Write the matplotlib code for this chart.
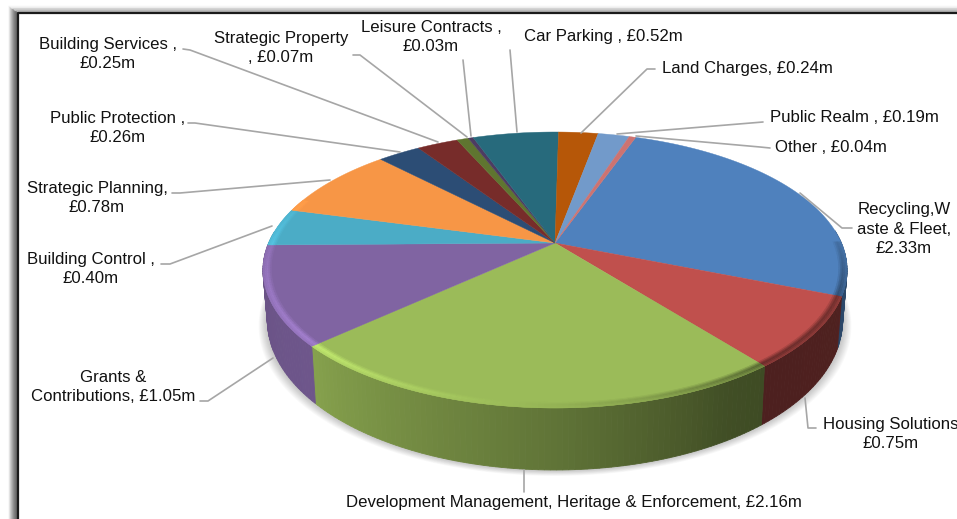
import numpy
from matplotlib import pyplot
from matplotlib.colors import to_rgb

pyplot.rcParams['font.family'] = ['Liberation Sans', 'DejaVu Sans']

# values in GBP million, clockwise from the blue slice
values = [2.33, 0.75, 2.16, 1.05, 0.40, 0.78, 0.26, 0.25, 0.07, 0.03, 0.52, 0.24, 0.19, 0.04]
colors = ['#4f81bd', '#c0504d', '#9bbb59', '#8064a2', '#4bacc6', '#f79646', '#2c4d75',
          '#772c2a', '#5f7530', '#4d3b62', '#276a7c', '#b65708', '#729aca', '#cd7371']
labels = ['Recycling,W\naste & Fleet,\n£2.33m', 'Housing Solutions\n£0.75m',
          'Development Management, Heritage & Enforcement, £2.16m',
          'Grants &\nContributions, £1.05m', 'Building Control ,\n£0.40m',
          'Strategic Planning,\n£0.78m', 'Public Protection ,\n£0.26m',
          'Building Services ,\n£0.25m', 'Strategic Property\n, £0.07m',
          'Leisure Contracts ,\n£0.03m', 'Car Parking , £0.52m', 'Land Charges, £0.24m',
          'Public Realm , £0.19m', 'Other , £0.04m']
label_pos = [(904, 229), (891, 434), (574, 502), (113, 387), (91, 269), (97, 198), (118, 128),
             (108, 54), (281, 48), (431, 37), (603, 36), (747, 69), (854, 117), (831, 147)]
leaders = [[(852, 228), (842, 228), (800, 193)], [(816, 428), (808, 428), (805, 398)],
           [(524, 492), (524, 470)], [(200, 401), (208, 401), (273, 358)],
           [(161, 264), (170, 264), (272, 226)], [(172, 193), (180, 193), (330, 180)],
           [(188, 123), (195, 123), (400, 152)], [(183, 49), (190, 50), (438, 142)],
           [(353, 55), (360, 55), (467, 137)], [(463, 60), (471, 136)],
           [(510, 50), (517, 132)], [(655, 69), (647, 69), (581, 133)],
           [(763, 122), (617, 134)], [(770, 148), (760, 147), (636, 136)]]

start_angle = 19.5
cx, cy = 555.0, 243.0
a, b, k = 286.4, 132.7, 0.1956


def project(theta, r=1.0):
    t = numpy.radians(theta)
    u, v = r * numpy.sin(t), r * numpy.cos(t)
    return cx + a * u / (1 + k * v), cy - b * v / (1 + k * v)


def project_bottom(theta, grow=0.0):
    x, y = project(theta)
    v = numpy.cos(numpy.radians(theta))
    x = cx + (x - cx) * (0.985 + grow)
    return x, y + 47 - 15 * v + grow * 200


def shade(color, f):
    return tuple(numpy.clip(numpy.array(to_rgb(color)) * f, 0, 1))


def side_light(theta):
    return numpy.interp(theta, [90, 111, 113, 141, 150, 180, 227, 270],
                        [0.6, 0.55, 0.41, 0.40, 0.42, 0.62, 0.86, 0.82])


def rim_light(theta):
    return numpy.interp(theta, [90, 113, 141, 165, 190, 230, 270, 300],
                        [0.85, 0.6, 0.55, 0.85, 1.02, 1.28, 1.14, 1.0])


fig = pyplot.figure(figsize=(9.57, 5.19), dpi=100)
ax = fig.add_axes([0, 0, 1, 1])
ax.set_xlim(0, 957)
ax.set_ylim(519, 0)
ax.axis('off')

# frame with its drop shadow
for i in range(9):
    ax.plot([17 - i, 17 - i], [13 - i * 0.7, 519], color='0.3', alpha=0.85 - 0.1 * i, lw=1.1, zorder=1)
    ax.plot([17 - i, 957], [12 - i * 0.7, 12 - i * 0.7], color='0.4', alpha=0.3 - 0.035 * i, lw=1.1, zorder=1)
ax.plot([18, 18, 957], [519, 13, 13], color='#1a1a1a', lw=1.6, zorder=2)

# soft shadow under the pie
th = numpy.arange(90, 271, 2.0)
for i in range(10):
    x, y = project_bottom(th, grow=0.003 * (i + 1))
    ax.fill(numpy.r_[x, x[0]], numpy.r_[y, y[0]], color='k', alpha=0.025, lw=0, zorder=3)

edges = start_angle + numpy.r_[0, numpy.cumsum(values)] / numpy.sum(values) * 360

# side wall, one degree at a time
for i in range(len(values)):
    for t0 in numpy.arange(edges[i], edges[i + 1], 1.0):
        t1 = min(t0 + 1.0, edges[i + 1])
        if t1 < 85 or t0 > 275:
            continue
        tm = numpy.array([t0, t1])
        x0, y0 = project(tm)
        x1, y1 = project_bottom(tm[::-1])
        c = shade(colors[i], side_light(0.5 * (t0 + t1)))
        ax.fill(numpy.r_[x0, x1], numpy.r_[y0, y1], color=c, lw=0.6, zorder=4)

# top face
for i in range(len(values)):
    th = numpy.linspace(edges[i], edges[i + 1], 60)
    x, y = project(th)
    ax.fill(numpy.r_[cx, x], numpy.r_[cy, y], color=colors[i], lw=0.3, zorder=5)

# bevel along the front of the top face
rings = numpy.linspace(0.972, 1.0, 6)
for i in range(len(values)):
    for t0 in numpy.arange(edges[i], edges[i + 1], 1.0):
        t1 = min(t0 + 1.0, edges[i + 1])
        if t1 < 90 or t0 > 290:
            continue
        tm = numpy.array([t0, t1])
        f = rim_light(0.5 * (t0 + t1))
        for j in range(len(rings) - 1):
            w = [0.3, 0.7, 1.0, 0.9, 0.7][j]
            g = 1 + (f - 1) * w
            x0, y0 = project(tm, rings[j])
            x1, y1 = project(tm[::-1], rings[j + 1])
            ax.fill(numpy.r_[x0, x1], numpy.r_[y0, y1], color=shade(colors[i], g), lw=0.3, zorder=6)

for pts in leaders:
    xs, ys = zip(*pts)
    ax.plot(xs, ys, color='#a6a6a6', lw=1.2, zorder=7, solid_capstyle='round')

for text, pos in zip(labels, label_pos):
    ax.text(pos[0], pos[1], text, ha='center', va='center', fontsize=12.1,
            color='#111111', linespacing=1.36, zorder=8)

pyplot.savefig('out.png', dpi=100)
